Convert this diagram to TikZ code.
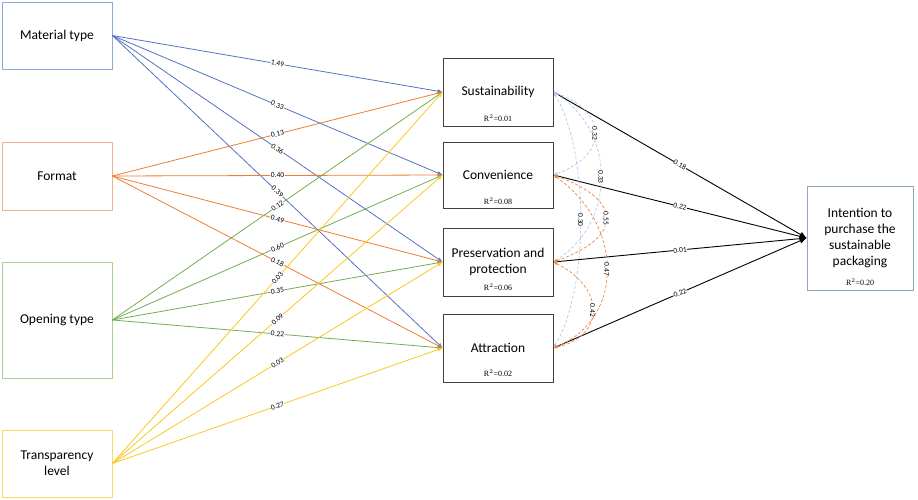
\documentclass[tikz,border=0pt]{standalone}
\usepackage{fontspec}
\setmainfont{Carlito}
\newfontfamily\rsqfont{Liberation Serif}
\usetikzlibrary{arrows.meta,positioning}
\definecolor{matblue} {HTML}{5573BF}
\definecolor{fmtorange}{HTML}{ED7D31}
\definecolor{opngreen}{HTML}{74AD50}
\definecolor{trnyellow}{HTML}{FAC81E}
\definecolor{matedge} {HTML}{8EA9DB}
\definecolor{fmtedge} {HTML}{F4B183}
\definecolor{opnedge} {HTML}{A9D18E}
\definecolor{trnedge} {HTML}{FFD966}
\definecolor{mededge} {HTML}{404040}
\definecolor{intedge} {HTML}{8FA9BF}
\definecolor{covblue} {HTML}{B4C7E7}
\definecolor{covorange}{HTML}{EE8546}
\tikzset{
  srcbox/.style={draw=#1,line width=0.7pt,fill=white,minimum width=110pt,
                 inner sep=2pt,align=center,font=\fontsize{13.5}{15.8}\selectfont},
  medbox/.style={draw=mededge,line width=0.8pt,fill=white,minimum width=110pt,
                 minimum height=68pt,inner sep=2pt,align=center,
                 font=\fontsize{13.5}{15.8}\selectfont},
  rsq/.style={font=\rsqfont\fontsize{8}{9}\selectfont,inner sep=0pt,anchor=south},
  effect/.style={draw=#1,line width=0.8pt,-{Latex[length=5pt,width=4pt]}},
  outcome/.style={draw=black,line width=0.9pt,-{Latex[length=7pt,width=6pt]}},
  coef/.style={font=\fontsize{7.5}{8}\selectfont,fill=white,inner sep=0.4pt,
               sloped,pos=0.5},
  cov/.style={draw=#1,line width=0.7pt,dashed,dash pattern=on 3pt off 2pt,
              {Latex[length=4pt,width=3pt]}-{Latex[length=4pt,width=3pt]}},
  covlab/.style={font=\fontsize{7.5}{8}\selectfont,fill=white,inner sep=0.4pt,
                 rotate=-90,pos=0.5}
}
\begin{document}
\begin{tikzpicture}[x=1pt,y=-1pt]
  \useasboundingbox (0,0) rectangle (918,500);
  % exogenous packaging attributes
  \node[srcbox=matedge,minimum height=67pt] (mat) at (57,35.5) {Material type};
  \node[srcbox=fmtedge,minimum height=68pt] (fmt) at (57,176) {Format};
  \node[srcbox=opnedge,minimum height=116pt] (opn) at (57,320) {Opening type};
  \node[srcbox=trnedge,minimum height=67pt] (trn) at (57,463.5) {Transparency\\level};
  % mediators
  \node[medbox] (sus) at (498,92) {Sustainability};
  \node[medbox,minimum height=66pt] (con) at (498,175) {Convenience};
  \node[medbox] (pre) at (498,262) {Preservation and\\protection};
  \node[medbox] (att) at (498,348) {Attraction};
  \node[rsq] at ([yshift=5pt]sus.south) {R$^2$=0.01};
  \node[rsq] at ([yshift=4pt]con.south) {R$^2$=0.08};
  \node[rsq] at ([yshift=6pt]pre.south) {R$^2$=0.06};
  \node[rsq] at ([yshift=6pt]att.south) {R$^2$=0.02};
  % outcome
  \node[draw=intedge,line width=0.8pt,fill=white,minimum width=106pt,minimum height=104pt,
        align=center,font=\fontsize{13.5}{15.8}\selectfont] (int) at (860,238)
    {Intention to\\purchase the\\sustainable\\packaging};
  \node[rsq] at ([yshift=5pt]int.south) {R$^2$=0.20};
  % direct effects
  \foreach \t/\v in {sus/1.49,con/0.33,pre/0.36,att/0.39}
    \draw[effect=matblue] (mat.east) -- node[coef]{\v} (\t.west);
  \foreach \t/\v in {sus/0.13,con/0.40,pre/0.49,att/0.18}
    \draw[effect=fmtorange] (fmt.east) -- node[coef]{\v} (\t.west);
  \foreach \t/\v in {sus/0.12,con/0.60,pre/0.35,att/0.22}
    \draw[effect=opngreen] (opn.east) -- node[coef]{\v} (\t.west);
  \foreach \t/\v in {sus/0.03,con/0.09,pre/0.03,att/0.27}
    \draw[effect=trnyellow] (trn.east) -- node[coef]{\v} (\t.west);
  \foreach \s/\v in {sus/0.18,con/0.22,pre/0.01,att/0.22}
    \draw[outcome] (\s.east) -- node[coef]{\v} (int.west);
  % correlations between mediators
  \draw[cov=covblue] (sus.east) .. controls +(55,20) and +(55,-20) .. node[covlab]{0.32} (con.east);
  \draw[cov=covblue] (sus.east) .. controls +(63,40) and +(63,-40) .. node[covlab]{0.33} (pre.east);
  \draw[cov=covblue] (sus.east) .. controls +(36,60) and +(36,-60) .. node[covlab]{0.30} (att.east);
  \draw[cov=covorange] (con.east) .. controls +(70,25) and +(70,-25) .. node[covlab]{0.55} (pre.east);
  \draw[cov=covorange] (con.east) .. controls +(71,50) and +(71,-29) .. node[covlab]{0.47} (att.east);
  \draw[cov=covorange] (pre.east) .. controls +(52,26) and +(52,-12) .. node[covlab]{0.42} (att.east);
\end{tikzpicture}
\end{document}
